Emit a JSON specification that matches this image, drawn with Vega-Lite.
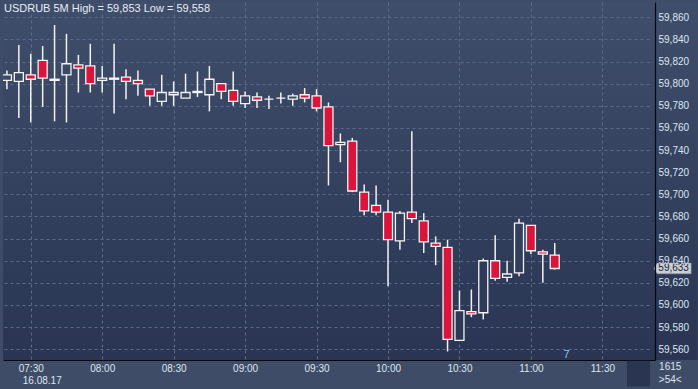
{
  "$schema": "https://vega.github.io/schema/vega-lite/v6.json",
  "width": 652,
  "height": 358,
  "autosize": {"type": "none"},
  "padding": {"left": 3, "top": 2, "right": 43, "bottom": 29},
  "background": "#3e4c68",
  "config": {
    "view": {"fill": {"gradient": "linear", "x1": 0, "y1": 0, "x2": 0, "y2": 1, "stops": [{"offset": 0, "color": "#3f4e6b"}, {"offset": 1, "color": "#293552"}]}, "stroke": null},
    "font": "Liberation Sans"
  },
  "title": {
    "text": "USDRUB 5M High = 59,853 Low = 59,558",
    "anchor": "start",
    "frame": "group",
    "orient": "top",
    "offset": -12,
    "baseline": "top",
    "fontSize": 11,
    "fontWeight": "normal",
    "color": "#e6ecf4",
    "font": "Liberation Sans",
    "dx": 1
  },
  "resolve": {"axis": {"y": "independent", "x": "independent"}},
  "layer": [
    {
      "data": {"values": [{"t0": "2017-08-16T11:50:00", "t1": "2017-08-16T12:10:00", "top": 59.8738, "bot": 59.5503}]},
      "mark": {"type": "rect", "clip": false, "color": {"gradient": "linear", "x1": 0, "y1": 0, "x2": 0, "y2": 1, "stops": [{"offset": 0, "color": "#3f4e6b"}, {"offset": 1, "color": "#293552"}]}},
      "encoding": {
        "x": {"field": "t0", "type": "temporal", "scale": {"domain": [{"year": 2017, "month": 8, "date": 16, "hours": 7, "minutes": 20, "seconds": 27}, {"year": 2017, "month": 8, "date": 16, "hours": 11, "minutes": 50, "seconds": 0}]}, "axis": {
          "title": null, "orient": "bottom", "zindex": 1,
          "values": [{"year": 2017, "month": 8, "date": 16, "hours": 7, "minutes": 30}],
          "labelExpr": "'16.08.17'",
          "grid": false, "ticks": false, "domain": false,
          "offset": 12, "labelOffset": 11,
          "labelColor": "#dde5f2", "labelFont": "Liberation Sans", "labelFontSize": 10,
          "labelPadding": 3, "labelFlush": false, "labelOverlap": false
        }},
        "x2": {"field": "t1"},
        "y": {"field": "top", "type": "quantitative", "scale": {"domain": [59.5503, 59.8738], "zero": false, "nice": false}, "axis": null},
        "y2": {"field": "bot"}
      }
    },
    {
      "data": {"values": [{"t0": "2017-08-16T11:40:20", "t1": "2017-08-16T11:50:00", "top": 59.5496, "bot": 59.5264}]},
      "mark": {"type": "rect", "clip": false, "color": "#2a3552"},
      "encoding": {
        "x": {"field": "t0", "type": "temporal", "axis": null},
        "x2": {"field": "t1"},
        "y": {"field": "top", "type": "quantitative", "axis": null},
        "y2": {"field": "bot"}
      }
    },
    {
      "data": {"name": "candles", "values": [
        {"t": "2017-08-16T07:20:00", "o": 59.803, "h": 59.812, "l": 59.795, "c": 59.808},
        {"t": "2017-08-16T07:25:00", "o": 59.802, "h": 59.835, "l": 59.769, "c": 59.810},
        {"t": "2017-08-16T07:30:00", "o": 59.808, "h": 59.827, "l": 59.765, "c": 59.804},
        {"t": "2017-08-16T07:35:00", "o": 59.821, "h": 59.834, "l": 59.779, "c": 59.805},
        {"t": "2017-08-16T07:40:00", "o": 59.803, "h": 59.853, "l": 59.766, "c": 59.804},
        {"t": "2017-08-16T07:45:00", "o": 59.808, "h": 59.845, "l": 59.765, "c": 59.818},
        {"t": "2017-08-16T07:50:00", "o": 59.817, "h": 59.826, "l": 59.792, "c": 59.814},
        {"t": "2017-08-16T07:55:00", "o": 59.816, "h": 59.836, "l": 59.792, "c": 59.800},
        {"t": "2017-08-16T08:00:00", "o": 59.803, "h": 59.816, "l": 59.792, "c": 59.805},
        {"t": "2017-08-16T08:05:00", "o": 59.804, "h": 59.836, "l": 59.773, "c": 59.805},
        {"t": "2017-08-16T08:10:00", "o": 59.806, "h": 59.813, "l": 59.786, "c": 59.802},
        {"t": "2017-08-16T08:15:00", "o": 59.803, "h": 59.812, "l": 59.789, "c": 59.800},
        {"t": "2017-08-16T08:20:00", "o": 59.795, "h": 59.795, "l": 59.780, "c": 59.789},
        {"t": "2017-08-16T08:25:00", "o": 59.784, "h": 59.808, "l": 59.780, "c": 59.792},
        {"t": "2017-08-16T08:30:00", "o": 59.790, "h": 59.802, "l": 59.780, "c": 59.792},
        {"t": "2017-08-16T08:35:00", "o": 59.787, "h": 59.809, "l": 59.787, "c": 59.792},
        {"t": "2017-08-16T08:40:00", "o": 59.792, "h": 59.811, "l": 59.788, "c": 59.793},
        {"t": "2017-08-16T08:45:00", "o": 59.790, "h": 59.816, "l": 59.775, "c": 59.804},
        {"t": "2017-08-16T08:50:00", "o": 59.800, "h": 59.800, "l": 59.786, "c": 59.793},
        {"t": "2017-08-16T08:55:00", "o": 59.794, "h": 59.811, "l": 59.780, "c": 59.784},
        {"t": "2017-08-16T09:00:00", "o": 59.782, "h": 59.793, "l": 59.778, "c": 59.789},
        {"t": "2017-08-16T09:05:00", "o": 59.788, "h": 59.792, "l": 59.778, "c": 59.785},
        {"t": "2017-08-16T09:10:00", "o": 59.786, "h": 59.789, "l": 59.777, "c": 59.786},
        {"t": "2017-08-16T09:15:00", "o": 59.787, "h": 59.792, "l": 59.782, "c": 59.787},
        {"t": "2017-08-16T09:20:00", "o": 59.786, "h": 59.791, "l": 59.780, "c": 59.789},
        {"t": "2017-08-16T09:25:00", "o": 59.790, "h": 59.796, "l": 59.783, "c": 59.787},
        {"t": "2017-08-16T09:30:00", "o": 59.789, "h": 59.795, "l": 59.775, "c": 59.778},
        {"t": "2017-08-16T09:35:00", "o": 59.779, "h": 59.783, "l": 59.708, "c": 59.744},
        {"t": "2017-08-16T09:40:00", "o": 59.745, "h": 59.755, "l": 59.729, "c": 59.747},
        {"t": "2017-08-16T09:45:00", "o": 59.748, "h": 59.751, "l": 59.702, "c": 59.703},
        {"t": "2017-08-16T09:50:00", "o": 59.702, "h": 59.709, "l": 59.681, "c": 59.685},
        {"t": "2017-08-16T09:55:00", "o": 59.690, "h": 59.708, "l": 59.681, "c": 59.684},
        {"t": "2017-08-16T10:00:00", "o": 59.684, "h": 59.695, "l": 59.617, "c": 59.659},
        {"t": "2017-08-16T10:05:00", "o": 59.658, "h": 59.685, "l": 59.650, "c": 59.683},
        {"t": "2017-08-16T10:10:00", "o": 59.684, "h": 59.757, "l": 59.674, "c": 59.678},
        {"t": "2017-08-16T10:15:00", "o": 59.676, "h": 59.683, "l": 59.647, "c": 59.657},
        {"t": "2017-08-16T10:20:00", "o": 59.656, "h": 59.662, "l": 59.636, "c": 59.653},
        {"t": "2017-08-16T10:25:00", "o": 59.652, "h": 59.659, "l": 59.558, "c": 59.569},
        {"t": "2017-08-16T10:30:00", "o": 59.568, "h": 59.613, "l": 59.568, "c": 59.595},
        {"t": "2017-08-16T10:35:00", "o": 59.594, "h": 59.614, "l": 59.589, "c": 59.592},
        {"t": "2017-08-16T10:40:00", "o": 59.593, "h": 59.642, "l": 59.587, "c": 59.640},
        {"t": "2017-08-16T10:45:00", "o": 59.640, "h": 59.663, "l": 59.622, "c": 59.624},
        {"t": "2017-08-16T10:50:00", "o": 59.625, "h": 59.640, "l": 59.621, "c": 59.628},
        {"t": "2017-08-16T10:55:00", "o": 59.629, "h": 59.678, "l": 59.626, "c": 59.674},
        {"t": "2017-08-16T11:00:00", "o": 59.672, "h": 59.672, "l": 59.646, "c": 59.649},
        {"t": "2017-08-16T11:05:00", "o": 59.648, "h": 59.650, "l": 59.620, "c": 59.646},
        {"t": "2017-08-16T11:10:00", "o": 59.645, "h": 59.656, "l": 59.632, "c": 59.633}
      ]},
      "mark": {"type": "rule", "color": "#f2f2f2", "strokeWidth": 1.5, "clip": true},
      "encoding": {
        "x": {"field": "t", "type": "temporal", "axis": {
          "title": null, "orient": "bottom", "zindex": 0,
          "values": [
            {"year": 2017, "month": 8, "date": 16, "hours": 7, "minutes": 30},
            {"year": 2017, "month": 8, "date": 16, "hours": 8, "minutes": 0},
            {"year": 2017, "month": 8, "date": 16, "hours": 8, "minutes": 30},
            {"year": 2017, "month": 8, "date": 16, "hours": 9, "minutes": 0},
            {"year": 2017, "month": 8, "date": 16, "hours": 9, "minutes": 30},
            {"year": 2017, "month": 8, "date": 16, "hours": 10, "minutes": 0},
            {"year": 2017, "month": 8, "date": 16, "hours": 10, "minutes": 30},
            {"year": 2017, "month": 8, "date": 16, "hours": 11, "minutes": 0},
            {"year": 2017, "month": 8, "date": 16, "hours": 11, "minutes": 30}
          ],
          "format": "%H:%M",
          "grid": true, "gridColor": "#5b6b8b", "gridDash": [3, 3], "gridWidth": 1,
          "ticks": false, "domain": true, "domainColor": "#05080f", "domainWidth": 1.2,
          "labelColor": "#dde5f2", "labelFont": "Liberation Sans", "labelFontSize": 10,
          "labelPadding": 3, "labelFlush": false, "labelOverlap": false
        }},
        "y": {"field": "l", "type": "quantitative", "scale": {"domain": [59.5503, 59.8738], "zero": false, "nice": false}, "axis": {
          "title": null, "orient": "right", "zindex": 0,
          "values": [59.56, 59.58, 59.6, 59.62, 59.64, 59.66, 59.68, 59.7, 59.72, 59.74, 59.76, 59.78, 59.8, 59.82, 59.84, 59.86],
          "grid": true, "gridColor": "#5b6b8b", "gridDash": [3, 3], "gridWidth": 1,
          "labels": false, "ticks": false, "domain": false
        }},
        "y2": {"field": "h"}
      }
    },
    {
      "data": {"name": "candles"},
      "mark": {"type": "bar", "width": 9, "stroke": "#f4f4f4", "strokeWidth": 1.3, "clip": true},
      "encoding": {
        "x": {"field": "t", "type": "temporal", "axis": null},
        "y": {"field": "o", "type": "quantitative", "axis": {
          "title": null, "orient": "right", "zindex": 1,
          "values": [59.56, 59.58, 59.6, 59.62, 59.64, 59.66, 59.68, 59.7, 59.72, 59.74, 59.76, 59.78, 59.8, 59.82, 59.84, 59.86],
          "labelExpr": "replace(format(datum.value, '.3f'), '.', ',')",
          "grid": false, "ticks": false, "domain": true, "domainColor": "#05080f", "domainWidth": 1.2,
          "labelColor": "#dde5f2", "labelFont": "Liberation Sans", "labelFontSize": 10,
          "labelPadding": 3, "labelAlign": "left", "labelFlush": false, "labelOverlap": false
        }},
        "y2": {"field": "c"},
        "fill": {
          "condition": {"test": "datum.o > datum.c", "value": "#dc143c"},
          "field": "c", "type": "quantitative",
          "scale": {"domain": [59.5503, 59.8738], "range": ["#2a3653", "#3e4d6a"]},
          "legend": null
        }
      }
    },
    {
      "data": {"values": [{"t": "2017-08-16T11:59:30", "v": 59.633, "label": "59,633"}]},
      "layer": [
        {
          "mark": {"type": "point", "shape": "M-1,0L-0.84,-0.29L1,-0.29L1,0.29L-0.84,0.29Z", "size": 1369, "filled": true, "fill": "#c9cdd5", "stroke": "#8a909c", "strokeWidth": 0.5, "opacity": 1, "clip": false},
          "encoding": {
            "x": {"field": "t", "type": "temporal", "axis": null},
            "y": {"field": "v", "type": "quantitative", "axis": null}
          }
        },
        {
          "mark": {"type": "text", "font": "Liberation Sans", "fontSize": 10, "color": "#1e2636", "align": "center", "baseline": "middle", "dx": 1},
          "encoding": {
            "x": {"field": "t", "type": "temporal", "axis": null},
            "y": {"field": "v", "type": "quantitative", "axis": null},
            "text": {"field": "label"}
          }
        }
      ]
    },
    {
      "data": {"values": [
        {"t": "2017-08-16T11:58:30", "v": 59.5437, "label": "1615"},
        {"t": "2017-08-16T11:58:30", "v": 59.5324, "label": ">54<"}
      ]},
      "mark": {"type": "text", "font": "Liberation Sans", "fontSize": 10, "color": "#dde5f2", "align": "center", "baseline": "middle", "clip": false},
      "encoding": {
        "x": {"field": "t", "type": "temporal", "axis": null},
        "y": {"field": "v", "type": "quantitative", "axis": null},
        "text": {"field": "label"}
      }
    },
    {
      "data": {"values": [{"t": "2017-08-16T11:15:00", "v": 59.5546, "label": "7"}]},
      "mark": {"type": "text", "font": "Liberation Sans", "fontSize": 11, "color": "#8fc0ee", "align": "center", "baseline": "middle"},
      "encoding": {
        "x": {"field": "t", "type": "temporal", "axis": null},
        "y": {"field": "v", "type": "quantitative", "axis": null},
        "text": {"field": "label"}
      }
    }
  ]
}
